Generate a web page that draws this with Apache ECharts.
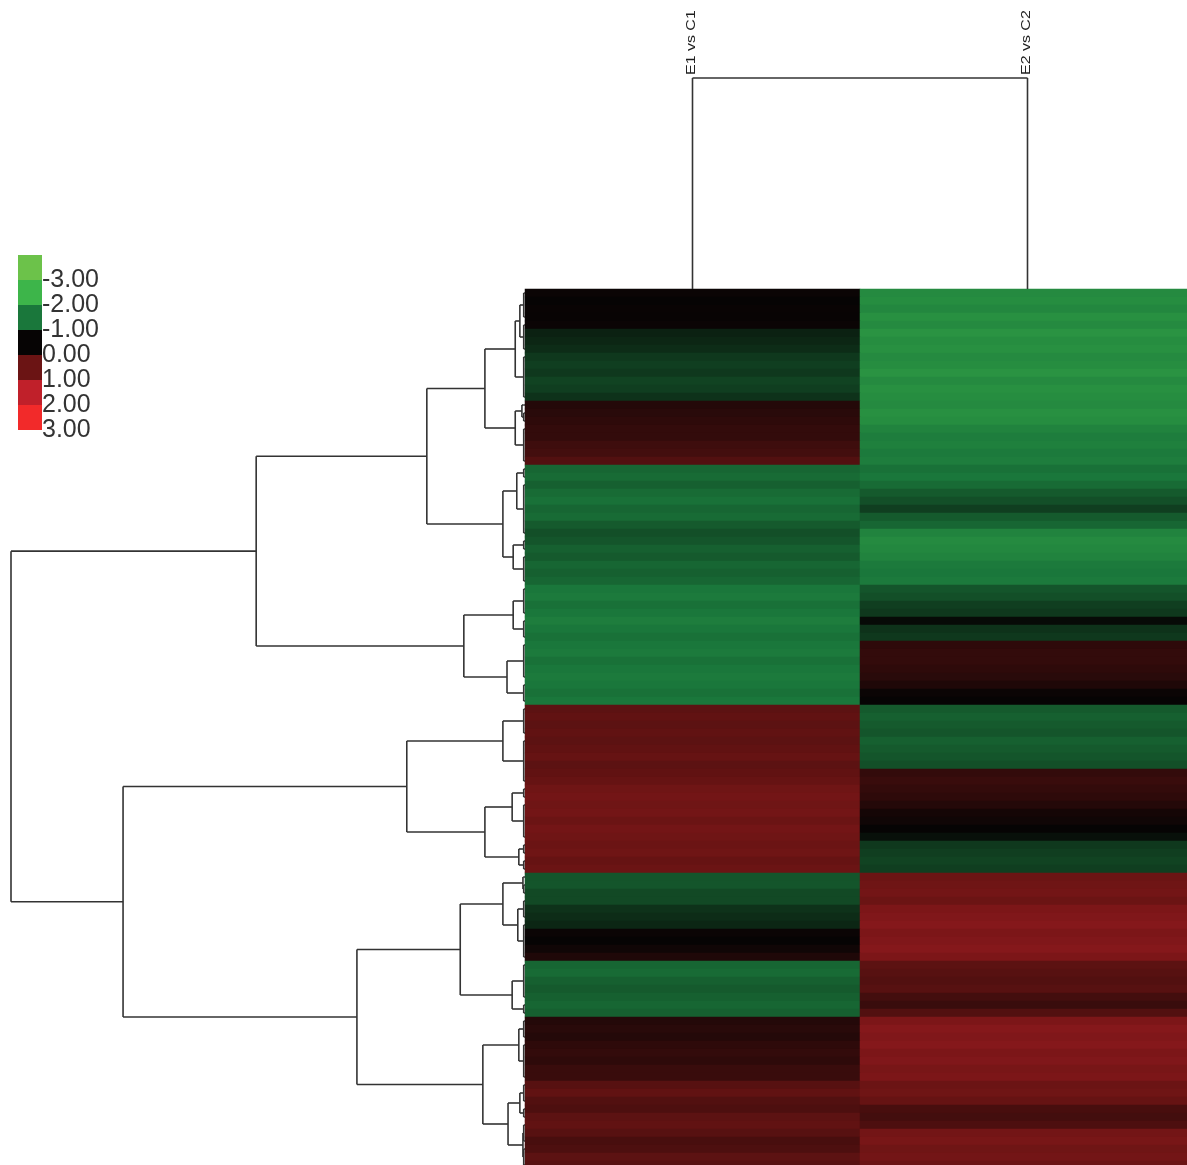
<!DOCTYPE html>
<html>
<head>
<meta charset="utf-8">
<script src="https://cdn.jsdelivr.net/npm/echarts@6/dist/echarts.min.js"></script>
<style>
  html, body { margin: 0; padding: 0; background: #ffffff; }
  #main { width: 1187px; height: 1165px; }
</style>
</head>
<body>
<div id="main"></div>
<script>
// Comparisons (heatmap columns)
const columns = ['E1 vs C1', 'E2 vs C2'];

// log2 fold change per gene, rows in clustered order (top to bottom)
const e1 = [
  0.05, 0.0, 0.03, 0.02, 0.05,
  -0.25, -0.3, -0.35, -0.45, -0.5, -0.45, -0.55, -0.5, -0.4,
  0.3, 0.35, 0.4, 0.45, 0.45, 0.55, 0.6, 0.75,
  -0.85, -0.9, -0.8, -0.9, -0.95, -0.85, -0.9, -0.75, -0.65, -0.7, -0.8, -0.75, -0.85, -0.8, -0.85,
  -1.0, -1.05, -0.95, -1.0, -1.1, -1.0, -0.95, -1.0, -1.05, -0.95, -1.0, -1.05, -1.0, -0.95, -1.0,
  0.85, 0.9, 0.85, 0.9, 0.85, 0.9, 0.95, 0.85, 0.9, 0.95, 1.05, 1.1, 1.05, 1.1, 1.0, 1.1, 1.05, 1.0, 1.05, 0.95, 1.0,
  -0.7, -0.7, -0.6, -0.6, -0.4, -0.35, -0.3, 0.05, 0.0, 0.1, 0.25,
  -0.85, -0.9, -0.8, -0.75, -0.8, -0.85, -0.8,
  0.3, 0.35, 0.3, 0.4, 0.45, 0.4, 0.5, 0.5,
  0.8, 0.9, 0.75, 0.7, 0.85, 0.9, 0.8, 0.65, 0.7, 0.85, 0.8
];
const e2 = [
  -1.3, -1.35, -1.25, -1.4, -1.3, -1.45, -1.35, -1.4, -1.3, -1.35, -1.45, -1.3, -1.4, -1.35, -1.3, -1.4, -1.35, -1.2, -1.1, -1.15, -1.05, -1.1,
  -0.95, -1.0, -0.9, -0.75, -0.65, -0.5, -0.75, -0.85, -1.2, -1.3, -1.25, -1.2, -1.05, -1.0, -1.05,
  -0.7, -0.65, -0.5, -0.45, -0.05, -0.4, -0.45, 0.4, 0.45, 0.45, 0.4, 0.35, 0.25, 0.05, 0.0,
  -0.75, -0.8, -0.75, -0.7, -0.8, -0.75, -0.7, -0.65, 0.45, 0.5, 0.45, 0.4, 0.3, 0.15, 0.1, 0.0, -0.1, -0.45, -0.5, -0.55, -0.5,
  1.0, 1.05, 1.1, 1.0, 1.2, 1.25, 1.3, 1.2, 1.25, 1.3, 1.2,
  0.85, 0.8, 0.75, 0.8, 0.6, 0.5, 0.75,
  1.2, 1.3, 1.25, 1.3, 1.2, 1.25, 1.15, 1.2,
  1.0, 1.05, 0.95, 0.65, 0.6, 0.7, 1.1, 1.15, 1.05, 1.1, 1.0
];

// Colour key: values and their colours (green = down, red = up)
const keyValues = [-3, -2, -1, 0, 1, 2, 3];
const keyColors = ['#6cc24a', '#3db54a', '#1a773b', '#060404', '#6b1414', '#c0202a', '#f22a2a'];

// Row clustering: internal node = [height, left, right], leaf group = [firstRow, lastRow]
const rowTree = [100,
  [52.3,
    [19.1,
      [7.8,
        [1.9, [1.0, [0, 3], [4, 7]], [8, 13]],
        [1.9, [0.6, [14, 14], [15, 16]], [17, 21]]
      ],
      [4.3,
        [1.6, [22, 23], [24, 30]],
        [2.3, [31, 32], [33, 36]]
      ]
    ],
    [11.9,
      [2.3, [37, 40], [41, 43]],
      [3.5, [44, 48], [49, 51]]
    ]
  ],
  [78.2,
    [23.0,
      [4.3, [52, 55], [56, 61]],
      [7.8, [2.5, [62, 63], [64, 68]], [1.2, [69, 70], [71, 72]]]
    ],
    [32.7,
      [12.6,
        [4.3, [0.4, [73, 73], [74, 75]], [1.4, [76, 78], [79, 83]]],
        [2.5, [84, 88], [89, 90]]
      ],
      [8.2,
        [1.2, [91, 93], [94, 98]],
        [3.3, [1.0, [99, 101], [102, 103]], [0.4, [104, 106], [107, 109]]]
      ]
    ]
  ]
];
const rowTreeMax = 100;
const leafBracket = 0.25;

// Column clustering: both comparisons join at this distance
const columnMerge = 1;

const nRows = e1.length;
const rowNames = e1.map((_, i) => String(i));

// heatmap cells [column, row, value]
const cells = [];
for (let r = 0; r < nRows; r++) {
  cells.push([0, r, e1[r]]);
  cells.push([1, r, e2[r]]);
}

// Walk the row tree and collect its line segments [h1, y1, h2, y2]
const rowSegments = [];
function walk(node) {
  if (node.length === 2) {
    const a = node[0] + 0.5, b = node[1] + 0.5;
    rowSegments.push([0, a, leafBracket, a]);
    if (b !== a) {
      rowSegments.push([0, b, leafBracket, b]);
      rowSegments.push([leafBracket, a, leafBracket, b]);
    }
    return { pos: (a + b) / 2, h: leafBracket };
  }
  const h = node[0];
  const l = walk(node[1]);
  const r = walk(node[2]);
  rowSegments.push([h, l.pos, h, r.pos]);
  rowSegments.push([l.h, l.pos, h, l.pos]);
  rowSegments.push([r.h, r.pos, h, r.pos]);
  return { pos: (l.pos + r.pos) / 2, h: h };
}
walk(rowTree);

// Column tree segments [col1, h1, col2, h2]
const colSegments = [
  [0, 0, 0, columnMerge],
  [1, 0, 1, columnMerge],
  [0, columnMerge, 1, columnMerge]
];
const colLabelAnchors = columns.map((_, i) => [i, columnMerge]);

const lineColor = '#333333';
function segmentItem(params, api) {
  const p1 = api.coord([api.value(0), api.value(1)]);
  const p2 = api.coord([api.value(2), api.value(3)]);
  return {
    type: 'line',
    shape: { x1: p1[0], y1: p1[1], x2: p2[0], y2: p2[1] },
    style: { stroke: lineColor, lineWidth: 1.6 }
  };
}

const hidden = { show: false };
const chart = echarts.init(document.getElementById('main'), null, { renderer: 'canvas' });

const legendBars = keyValues.map((v, i) => ({
  type: 'bar',
  xAxisIndex: 3,
  yAxisIndex: 3,
  stack: 'key',
  barWidth: '100%',
  silent: true,
  data: [1],
  itemStyle: { color: keyColors[i] }
}));

chart.setOption({
  animation: false,
  backgroundColor: '#ffffff',
  grid: [
    { left: 525, top: 289, width: 670, height: 880, outerBoundsMode: 'none' },   // heatmap
    { left: 11, top: 289, width: 514, height: 880, outerBoundsMode: 'none' },    // row dendrogram
    { left: 525, top: 78, width: 670, height: 211, outerBoundsMode: 'none' },    // column dendrogram
    { left: 18, top: 255, width: 24, height: 175, outerBoundsMode: 'none' }      // colour key
  ],
  xAxis: [
    { gridIndex: 0, type: 'category', data: columns, show: false },
    { gridIndex: 1, type: 'value', min: 0, max: rowTreeMax, inverse: true, show: false },
    { gridIndex: 2, type: 'category', data: columns, show: false },
    { gridIndex: 3, type: 'category', data: [''], show: false }
  ],
  yAxis: [
    { gridIndex: 0, type: 'category', data: rowNames, inverse: true, show: false },
    { gridIndex: 1, type: 'value', min: 0, max: nRows, inverse: true, show: false },
    { gridIndex: 2, type: 'value', min: 0, max: columnMerge, show: false },
    {
      gridIndex: 3, type: 'value', min: 0, max: keyValues.length, interval: 1,
      inverse: true, position: 'right',
      axisLine: hidden, axisTick: hidden, splitLine: hidden,
      axisLabel: {
        margin: 0,
        color: '#333333',
        fontSize: 25,
        fontFamily: 'Liberation Sans, Arial, sans-serif',
        formatter: (v) => (v >= 1 ? keyValues[v - 1].toFixed(2) : '')
      }
    }
  ],
  visualMap: {
    type: 'continuous',
    show: false,
    seriesIndex: 0,
    dimension: 2,
    min: keyValues[0],
    max: keyValues[keyValues.length - 1],
    inRange: { color: keyColors }
  },
  series: [
    {
      type: 'heatmap',
      xAxisIndex: 0,
      yAxisIndex: 0,
      data: cells,
      silent: true,
      itemStyle: { borderWidth: 0 }
    },
    {
      type: 'custom',
      xAxisIndex: 1,
      yAxisIndex: 1,
      silent: true,
      encode: { x: [0, 2], y: [1, 3] },
      data: rowSegments,
      renderItem: segmentItem,
      z: 5
    },
    {
      type: 'custom',
      xAxisIndex: 2,
      yAxisIndex: 2,
      silent: true,
      encode: { x: [0, 2], y: [1, 3] },
      data: colSegments,
      renderItem: segmentItem,
      z: 5
    },
    {
      type: 'custom',
      xAxisIndex: 2,
      yAxisIndex: 2,
      silent: true,
      data: colLabelAnchors,
      renderItem: function (params, api) {
        const p = api.coord([api.value(0), api.value(1)]);
        return {
          type: 'text',
          x: p[0] - 1,
          y: p[1] - 3,
          rotation: Math.PI / 2,
          scaleX: 1.33,
          style: {
            text: columns[api.value(0)],
            fontSize: 12,
            fontFamily: 'Liberation Sans, Arial, sans-serif',
            fill: '#1e1e1e',
            align: 'left',
            verticalAlign: 'middle'
          }
        };
      }
    }
  ].concat(legendBars)
});
</script>
</body>
</html>
